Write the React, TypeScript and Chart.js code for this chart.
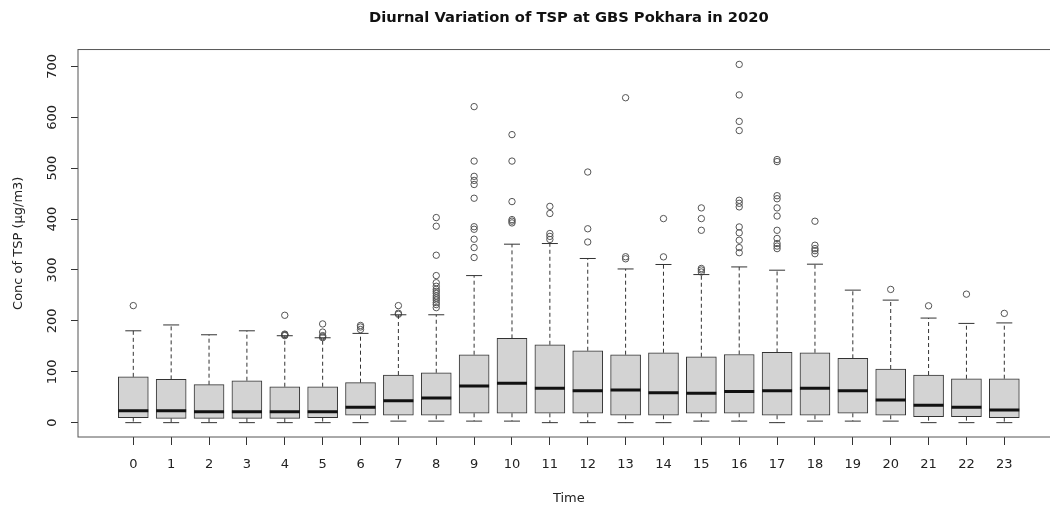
import React, { useEffect, useRef } from "react";
import { Chart, registerables } from "chart.js";

Chart.register(...registerables);

const TITLE = "Diurnal Variation of TSP at GBS Pokhara in 2020";
const X_TITLE = "Time";
const Y_TITLE = "Conc of TSP (µg/m3)";

const HOURS = [0, 1, 2, 3, 4, 5, 6, 7, 8, 9, 10, 11, 12, 13, 14, 15, 16, 17, 18, 19, 20, 21, 22, 23];
const Y_TICKS = [0, 100, 200, 300, 400, 500, 600, 700];

const LOWER_WHISKER = [0, 0, 0, 0, 0, 0, 0, 3, 3, 3, 3, 0, 0, 0, 0, 3, 3, 0, 3, 3, 3, 0, 0, 0];
const Q1 = [10, 8.5, 8.5, 8.5, 8.5, 10, 14.5, 14.5, 14.5, 18.4, 18.4, 18.4, 18.4, 14.5, 14.5, 18.4, 18.4, 14.5, 14.5, 18.4, 14.5, 11.8, 11.8, 9.8];
const MEDIAN = [23.5, 23.5, 21.6, 21.6, 21.6, 21.6, 30.2, 43.2, 48.5, 72, 77.3, 67.5, 62.8, 64, 58.9, 57.7, 61, 62.8, 67.5, 62.8, 44.5, 34, 30.2, 25];
const Q3 = [90, 85, 74.6, 82.4, 70.6, 70.6, 78.5, 93.6, 98, 133.5, 165.6, 153, 141.3, 133.5, 137.4, 129.5, 134, 138, 137.4, 126.4, 105.4, 93.6, 86.3, 86.3];
const UPPER_WHISKER = [180.5, 192, 172.7, 180.5, 170.8, 166.8, 175.4, 212, 212, 289, 350.7, 352, 322.6, 302, 310.8, 291, 306, 299.6, 311.4, 260.4, 240.8, 205.5, 195, 196];

const OUTLIERS: number[][] = [
  [230],
  [],
  [],
  [],
  [171, 172, 173, 174, 211],
  [167, 169, 171, 178, 194],
  [183, 188, 191],
  [213, 215, 230],
  [226, 232, 236, 241, 245, 249, 254, 258, 262, 268, 275, 289, 329, 386, 403],
  [324.5, 344, 360.5, 380, 385, 441, 468, 476, 484, 514, 621],
  [392.5, 396, 399, 434.4, 514, 566],
  [360, 366, 371.6, 411, 425],
  [355, 381, 492.5],
  [322, 326, 638.5],
  [325.8, 401],
  [296, 300, 303, 378, 401, 422],
  [334, 344, 358.5, 373, 384.6, 424, 431, 437, 574, 592, 644, 704],
  [342, 347, 352, 362, 378, 406, 422, 440, 446, 513, 517],
  [332, 338, 342, 348.7, 395.8],
  [],
  [261.8],
  [229.6],
  [252.5],
  [214.7],
];

const FONT = "'DejaVu Sans', 'Liberation Sans', Arial, sans-serif";

export default function App() {
  const ref = useRef<HTMLCanvasElement>(null);

  useEffect(() => {
    const canvas = ref.current;
    if (!canvas) return;

    const boxParts = {
      id: "boxParts",
      beforeDraw(chart: any) {
        const { ctx, width, height } = chart;
        ctx.save();
        ctx.fillStyle = "#ffffff";
        ctx.fillRect(0, 0, width, height);
        ctx.restore();
      },
      afterDatasetsDraw(chart: any) {
        const { ctx, chartArea } = chart;
        const x = chart.scales.x;
        const y = chart.scales.y;
        ctx.save();
        ctx.beginPath();
        ctx.rect(chartArea.left, chartArea.top, chartArea.right - chartArea.left, chartArea.bottom - chartArea.top);
        ctx.clip();
        HOURS.forEach((h, i) => {
          const cx = x.getPixelForValue(h);
          const yQ1 = y.getPixelForValue(Q1[i]);
          const yQ3 = y.getPixelForValue(Q3[i]);
          const yLo = y.getPixelForValue(LOWER_WHISKER[i]);
          const yHi = y.getPixelForValue(UPPER_WHISKER[i]);
          const yMed = y.getPixelForValue(MEDIAN[i]);
          ctx.strokeStyle = "#333";
          ctx.lineWidth = 1;
          ctx.setLineDash([4, 3]);
          ctx.beginPath();
          ctx.moveTo(cx, yQ3);
          ctx.lineTo(cx, yHi);
          ctx.moveTo(cx, yQ1);
          ctx.lineTo(cx, yLo);
          ctx.stroke();
          ctx.setLineDash([]);
          ctx.beginPath();
          ctx.moveTo(cx - 8, yHi);
          ctx.lineTo(cx + 8, yHi);
          ctx.moveTo(cx - 8, yLo);
          ctx.lineTo(cx + 8, yLo);
          ctx.stroke();
          ctx.strokeStyle = "#111";
          ctx.lineWidth = 3;
          ctx.beginPath();
          ctx.moveTo(cx - 15, yMed);
          ctx.lineTo(cx + 15, yMed);
          ctx.stroke();
        });
        ctx.restore();
      },
      afterDraw(chart: any) {
        const { ctx, chartArea } = chart;
        const y = chart.scales.y;
        ctx.save();
        ctx.strokeStyle = "#555";
        ctx.lineWidth = 1;
        ctx.strokeRect(chartArea.left, chartArea.top, chartArea.right - chartArea.left, chartArea.bottom - chartArea.top);
        ctx.fillStyle = "#222";
        ctx.font = `13px ${FONT}`;
        ctx.textAlign = "center";
        ctx.textBaseline = "middle";
        Y_TICKS.forEach((v) => {
          const py = y.getPixelForValue(v);
          ctx.save();
          ctx.translate(53, py);
          ctx.rotate(-Math.PI / 2);
          ctx.fillText(String(v), 0, 0);
          ctx.restore();
        });
        ctx.restore();
      },
    };

    const chart = new Chart(canvas, {
      type: "bar",
      data: {
        datasets: [
          {
            type: "bar",
            label: "box",
            data: HOURS.map((h, i) => ({ x: h, y: [Q1[i], Q3[i]] })) as any,
            backgroundColor: "#d3d3d3",
            borderColor: "#333",
            borderWidth: 1,
            borderSkipped: false,
            barThickness: 30,
            grouped: false,
            order: 2,
          } as any,
          {
            type: "scatter",
            label: "outliers",
            data: HOURS.flatMap((h, i) => OUTLIERS[i].map((v) => ({ x: h, y: v }))),
            pointStyle: "circle",
            pointRadius: 3.2,
            pointBorderWidth: 1,
            borderColor: "#555",
            backgroundColor: "rgba(0,0,0,0)",
            showLine: false,
            order: 1,
          } as any,
        ],
      },
      options: {
        responsive: false,
        animation: false,
        devicePixelRatio: 1,
        layout: { padding: { left: 0, right: 10.4, top: 0, bottom: 0 } },
        plugins: {
          legend: { display: false },
          tooltip: { enabled: false },
          title: {
            display: true,
            text: TITLE,
            fullSize: false,
            color: "#111",
            font: { family: FONT, size: 14.7, weight: "bold" },
            padding: { top: 9, bottom: 22.9 },
          },
        },
        scales: {
          x: {
            type: "linear",
            min: -1.46,
            max: 24.46,
            offset: false,
            grid: { offset: false, drawOnChartArea: false, drawTicks: true, tickLength: 8, color: "#333" },
            border: { display: false },
            ticks: {
              font: { family: FONT, size: 13 },
              color: "#222",
              padding: 12,
              maxRotation: 0,
              minRotation: 0,
              autoSkip: false,
              callback: (v: any) => String(v),
            },
            afterBuildTicks: (s: any) => {
              s.ticks = HOURS.map((v) => ({ value: v }));
            },
            afterFit: (s: any) => {
              s.height = 73;
            },
            title: {
              display: true,
              text: X_TITLE,
              color: "#222",
              font: { family: FONT, size: 13 },
              padding: { top: 0, bottom: 4 },
            },
          },
          y: {
            type: "linear",
            min: -28.2,
            max: 733.2,
            grid: { drawOnChartArea: false, drawTicks: true, tickLength: 7, color: "#333" },
            border: { display: false },
            ticks: { display: false },
            afterBuildTicks: (s: any) => {
              s.ticks = Y_TICKS.map((v) => ({ value: v }));
            },
            afterFit: (s: any) => {
              s.width = 78;
            },
            title: {
              display: true,
              text: Y_TITLE,
              color: "#222",
              font: { family: FONT, size: 13 },
              padding: { top: 11, bottom: 0 },
            },
          },
        },
      } as any,
      plugins: [boxParts],
    });

    return () => chart.destroy();
  }, []);

  return (
    <div
      style={{
        position: "absolute",
        left: 0,
        top: 0,
        width: 1050,
        height: 510,
        overflow: "hidden",
        background: "#fff",
      }}
    >
      <canvas ref={ref} width={1070} height={510} style={{ display: "block", width: 1070, height: 510 }} />
    </div>
  );
}
